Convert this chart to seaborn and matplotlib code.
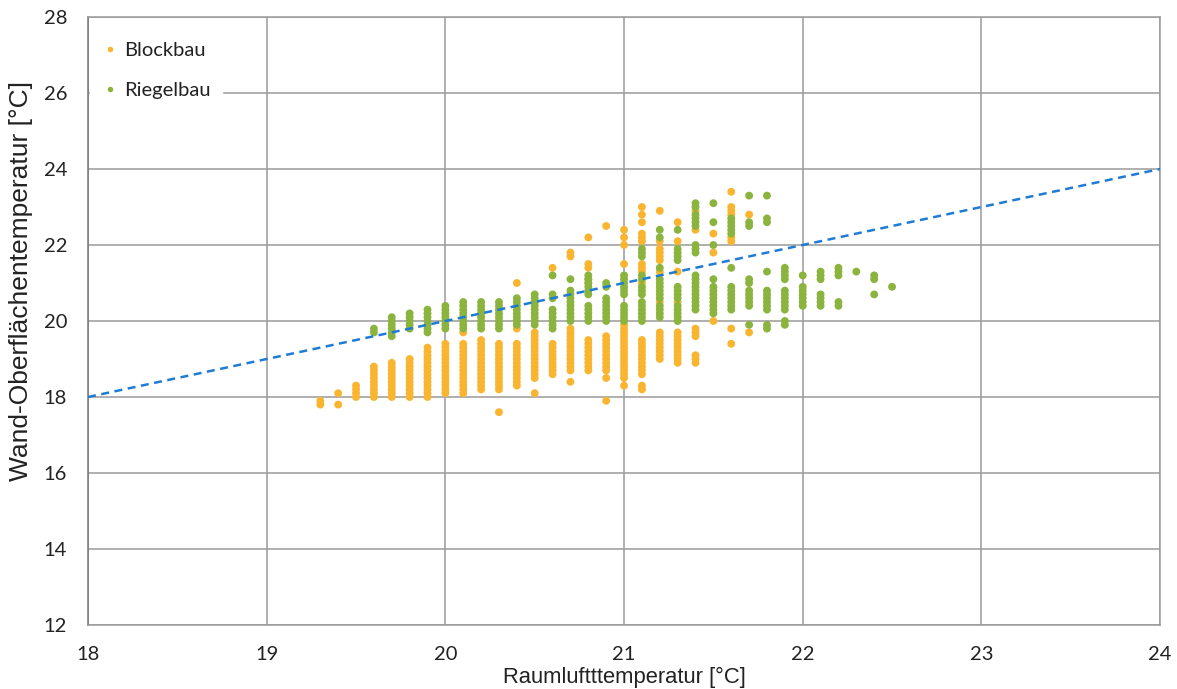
import matplotlib
matplotlib.use("Agg")
import matplotlib.pyplot as plt
import seaborn as sns
import pandas as pd

# ---------------- data ----------------
block_cols = [19.3, 19.4, 19.5, 19.6, 19.7, 19.8, 19.9, 20.0, 20.1, 20.2, 20.3, 20.4,
              20.5, 20.6, 20.7, 20.8, 20.9, 21.0, 21.1, 21.2, 21.3, 21.4, 21.5, 21.6, 21.7]
block_vals = [
    [17.8, 17.9],
    [17.8, 18.1],
    [18.0, 18.1, 18.2, 18.3],
    [18.0, 18.1, 18.2, 18.3, 18.4, 18.5, 18.6, 18.7, 18.8],
    [18.0, 18.1, 18.2, 18.3, 18.4, 18.5, 18.6, 18.7, 18.8, 18.9],
    [18.0, 18.1, 18.2, 18.3, 18.4, 18.5, 18.6, 18.7, 18.8, 18.9, 19.0],
    [18.0, 18.1, 18.2, 18.3, 18.4, 18.5, 18.6, 18.7, 18.8, 18.9, 19.0, 19.1, 19.2, 19.3],
    [18.1, 18.2, 18.3, 18.4, 18.5, 18.6, 18.7, 18.8, 18.9, 19.0, 19.1, 19.2, 19.3, 19.4],
    [18.1, 18.2, 18.3, 18.4, 18.5, 18.6, 18.7, 18.8, 18.9, 19.0, 19.1, 19.2, 19.3, 19.4, 19.7],
    [18.2, 18.3, 18.4, 18.5, 18.6, 18.7, 18.8, 18.9, 19.0, 19.1, 19.2, 19.3, 19.4, 19.5],
    [17.6, 18.2, 18.3, 18.4, 18.5, 18.6, 18.7, 18.8, 18.9, 19.0, 19.1, 19.2, 19.3, 19.4],
    [18.3, 18.4, 18.5, 18.6, 18.7, 18.8, 18.9, 19.0, 19.1, 19.2, 19.3, 19.4, 19.8, 21.0],
    [18.1, 18.5, 18.6, 18.7, 18.8, 18.9, 19.0, 19.1, 19.2, 19.3, 19.4, 19.5, 19.6, 19.7],
    [18.6, 18.7, 18.8, 18.9, 19.0, 19.1, 19.2, 19.3, 19.4, 21.4],
    [18.4, 18.7, 18.8, 18.9, 19.0, 19.1, 19.2, 19.3, 19.4, 19.5, 19.6, 19.7, 19.8, 21.7, 21.8],
    [18.7, 18.8, 18.9, 19.0, 19.1, 19.2, 19.3, 19.4, 19.5, 21.0, 21.1, 21.4, 21.5, 22.2],
    [17.9, 18.5, 18.7, 18.8, 18.9, 19.0, 19.1, 19.2, 19.3, 19.4, 19.5, 19.6, 22.5],
    [18.3, 18.5, 18.6, 18.7, 18.8, 18.9, 19.0, 19.1, 19.2, 19.3, 19.4, 19.5, 19.6, 19.7,
     19.8, 19.9, 21.5, 22.0, 22.2, 22.4],
    [18.2, 18.3, 18.6, 18.7, 18.8, 18.9, 19.0, 19.1, 19.2, 19.3, 19.4, 19.5, 21.0, 21.3,
     21.4, 21.5, 22.1, 22.2, 22.3, 22.6, 22.8, 23.0],
    [19.0, 19.1, 19.2, 19.3, 19.4, 19.5, 19.6, 19.7, 20.5, 21.3, 21.6, 21.7, 21.8, 21.9,
     22.1, 22.9],
    [18.9, 19.0, 19.1, 19.2, 19.3, 19.4, 19.5, 19.6, 19.7, 20.5, 21.3, 22.1, 22.6],
    [18.9, 19.0, 19.1, 19.6, 19.7, 19.8, 22.4, 22.9],
    [20.0, 21.8, 22.3],
    [19.4, 19.8, 22.1, 22.2, 22.8, 22.9, 23.0, 23.4],
    [19.7, 22.8],
]

riegel_cols = [19.6, 19.7, 19.8, 19.9, 20.0, 20.1, 20.2, 20.3, 20.4, 20.5, 20.6, 20.7,
               20.8, 20.9, 21.0, 21.1, 21.2, 21.3, 21.4, 21.5, 21.6, 21.7, 21.8, 21.9,
               22.0, 22.1, 22.2, 22.3, 22.4, 22.5]
riegel_vals = [
    [19.7, 19.8],
    [19.6, 19.7, 19.8, 19.9, 20.0, 20.1],
    [19.8, 19.9, 20.0, 20.1, 20.2],
    [19.7, 19.8, 19.9, 20.0, 20.1, 20.2, 20.3],
    [19.8, 19.9, 20.0, 20.1, 20.2, 20.3, 20.4],
    [19.8, 19.9, 20.0, 20.1, 20.2, 20.3, 20.4, 20.5],
    [19.8, 19.9, 20.0, 20.1, 20.2, 20.3, 20.4, 20.5],
    [19.8, 19.9, 20.0, 20.1, 20.2, 20.3, 20.4, 20.5],
    [19.9, 20.0, 20.1, 20.2, 20.3, 20.4, 20.5, 20.6],
    [19.9, 20.0, 20.1, 20.2, 20.3, 20.4, 20.5, 20.6, 20.7],
    [19.8, 19.9, 20.0, 20.1, 20.2, 20.3, 20.6, 20.7, 21.2],
    [20.0, 20.1, 20.2, 20.3, 20.4, 20.5, 20.6, 20.7, 20.8, 21.1],
    [20.0, 20.1, 20.2, 20.3, 20.4, 20.7, 20.8, 20.9, 21.0, 21.1, 21.2],
    [20.0, 20.1, 20.2, 20.3, 20.4, 20.5, 20.6, 20.9, 21.0],
    [20.0, 20.1, 20.2, 20.3, 20.4, 20.7, 20.8, 20.9, 21.0, 21.1, 21.2],
    [20.0, 20.1, 20.2, 20.3, 20.4, 20.5, 20.7, 20.8, 20.9, 21.1, 21.2, 21.7, 21.8, 21.9],
    [20.1, 20.2, 20.3, 20.4, 20.6, 20.7, 20.8, 20.9, 21.0, 21.1, 21.4, 22.2, 22.4],
    [20.0, 20.1, 20.2, 20.3, 20.4, 20.6, 20.7, 20.8, 20.9, 21.6, 21.7, 21.8, 21.9, 22.4],
    [20.3, 20.4, 20.5, 20.6, 20.7, 20.8, 20.9, 21.0, 21.1, 21.2, 21.8, 21.9, 22.0,
     22.5, 22.6, 22.7, 22.8, 23.0, 23.1],
    [20.2, 20.3, 20.4, 20.5, 20.6, 20.7, 20.8, 20.9, 21.1, 22.0, 22.6, 23.1],
    [20.3, 20.4, 20.5, 20.6, 20.7, 20.8, 20.9, 21.4, 22.3, 22.4, 22.5, 22.6, 22.7],
    [19.9, 20.4, 20.5, 20.6, 20.7, 20.8, 21.0, 21.1, 22.5, 22.6, 23.3],
    [19.8, 19.9, 20.3, 20.4, 20.5, 20.6, 20.7, 20.8, 21.3, 22.6, 22.7, 23.3],
    [19.9, 20.0, 20.3, 20.4, 20.5, 20.6, 20.7, 20.8, 21.1, 21.2, 21.3, 21.4],
    [20.4, 20.5, 20.6, 20.7, 20.8, 20.9, 21.2],
    [20.4, 20.5, 20.6, 20.7, 21.1, 21.2, 21.3],
    [20.4, 20.5, 21.2, 21.3, 21.4],
    [21.3],
    [20.7, 21.1, 21.2],
    [20.9],
]

series_names = ["Blockbau", "Riegelbau"]
series_colors = ["#F9B530", "#8BB43E"]
ref_line_x = [18, 24]
ref_line_y = [18, 24]
x_ticks = [18, 19, 20, 21, 22, 23, 24]
y_ticks = [12, 14, 16, 18, 20, 22, 24, 26, 28]
x_label = "Raumluftttemperatur [°C]"
y_label = "Wand-Oberflächentemperatur [°C]"

# ---------------- build table ----------------
rows = []
for name, cols, vals in [(series_names[0], block_cols, block_vals),
                         (series_names[1], riegel_cols, riegel_vals)]:
    for cx, ys in zip(cols, vals):
        for yv in ys:
            rows.append({"x": cx, "y": yv, "Serie": name})
df = pd.DataFrame(rows)

# ---------------- plot ----------------
sns.set_style("white")
plt.rcParams["font.family"] = ["Lato", "DejaVu Sans"]

fig = plt.figure(figsize=(11.77, 6.89), dpi=100)
ax = fig.add_axes([0.0748, 0.0929, 0.9108, 0.8824])

sns.scatterplot(data=df, x="x", y="y", hue="Serie", hue_order=series_names,
                palette=series_colors, s=32, linewidth=0, edgecolor="none",
                ax=ax, zorder=3)
ax.plot(ref_line_x, ref_line_y, linestyle=(0, (3.2, 2.2)), color="#1E7BD6",
        linewidth=1.8, zorder=4)

ax.set_xlim(18, 24)
ax.set_ylim(12, 28)
ax.set_xticks(x_ticks)
ax.set_yticks(y_ticks)
ax.grid(True, color="#9a9a9a", linewidth=1.1, zorder=0)
ax.set_axisbelow(True)
for sp in ax.spines.values():
    sp.set_color("#9a9a9a")
    sp.set_linewidth(1.1)
ax.spines["left"].set_color("#777777")
ax.tick_params(axis="both", which="major", length=6, width=1.1, color="#888888",
               labelsize=14.5, labelcolor="#222222", pad=9, direction="out")

ax.set_xlabel(x_label, family=["Liberation Sans", "DejaVu Sans"], fontsize=15.8,
              color="#222222")
ax.xaxis.set_label_coords(0.5, -0.069)
ax.set_ylabel(y_label, family=["Liberation Sans", "DejaVu Sans"], fontsize=19,
              color="#222222")
ax.yaxis.set_label_coords(-0.051, 0.565)

leg = ax.legend(loc="upper left", bbox_to_anchor=(-0.008, 0.996), frameon=True,
                framealpha=1, edgecolor="white", facecolor="white", fontsize=14.5,
                markerscale=0.7, handlelength=0.8, handletextpad=0.3,
                labelspacing=1.15, borderpad=0.6, title=None)
for t in leg.get_texts():
    t.set_color("#222222")

fig.savefig("out.png", dpi=100)
